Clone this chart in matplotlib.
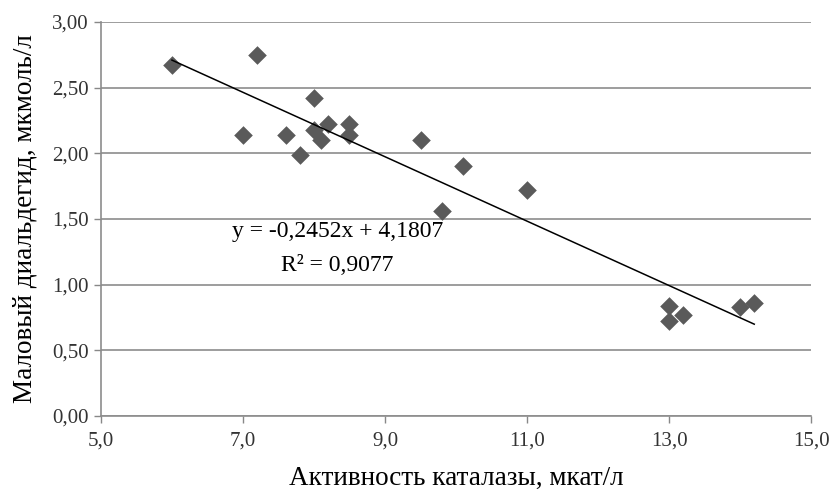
import numpy as np
import matplotlib.pyplot as plt

# catalase activity vs malondialdehyde
catalase = [6.0, 7.2, 7.0, 7.6, 7.8, 8.0, 8.0, 8.1, 8.2, 8.5, 8.5,
            9.5, 10.1, 9.8, 11.0, 13.0, 13.0, 13.2, 14.0, 14.2]
mda = [2.67, 2.75, 2.14, 2.14, 1.99, 2.42, 2.18, 2.10, 2.22, 2.22, 2.14,
       2.10, 1.90, 1.56, 1.72, 0.84, 0.72, 0.77, 0.83, 0.86]
slope = -0.2452
intercept = 4.1807
r2 = 0.9077

xticks = [5.0, 7.0, 9.0, 11.0, 13.0, 15.0]
yticks = [0.0, 0.5, 1.0, 1.5, 2.0, 2.5, 3.0]

plt.rcParams['font.family'] = ['Liberation Serif', 'DejaVu Serif']

fig = plt.figure(figsize=(8.31, 4.94), dpi=100)
ax = fig.add_axes([0.1215, 0.158, 0.8545, 0.7975])

ax.scatter(catalase, mda, marker='D', s=90, color='#5a5a5a', zorder=3,
           linewidths=0)

xl = np.array([min(catalase), max(catalase)])
ax.plot(xl, slope * xl + intercept, color='black', lw=1.1, zorder=4)

ax.text(8.33, 1.405, 'y = -0,2452x + 4,1807', ha='center', va='center',
        fontsize=17, zorder=5)
ax.text(8.33, 1.145, 'R² = 0,9077', ha='center', va='center',
        fontsize=17, zorder=5)

ax.set_xlim(5, 15)
ax.set_ylim(0, 3)
ax.set_xticks(xticks)
ax.set_yticks(yticks)
ax.set_xticklabels(['{:.1f}'.format(v).replace('.', ',') for v in xticks])
ax.set_yticklabels(['{:.2f}'.format(v).replace('.', ',') for v in yticks])
ax.tick_params(labelsize=15, colors='#333333', length=5, width=1,
               color='#888888', pad=4)
ax.tick_params(axis='x', pad=6)

ax.grid(axis='y', color='#8c8c8c', lw=1.2)
ax.set_axisbelow(True)
for s in ['top', 'right']:
    ax.spines[s].set_visible(False)
for s in ['left', 'bottom']:
    ax.spines[s].set_color('#8c8c8c')
    ax.spines[s].set_linewidth(1.2)

ax.set_xlabel('Активность каталазы, мкат/л', fontsize=19.5, labelpad=11)
ax.set_ylabel('Маловый диальдегид, мкмоль/л', fontsize=19.5, labelpad=10)

plt.savefig('out.png', dpi=100)
